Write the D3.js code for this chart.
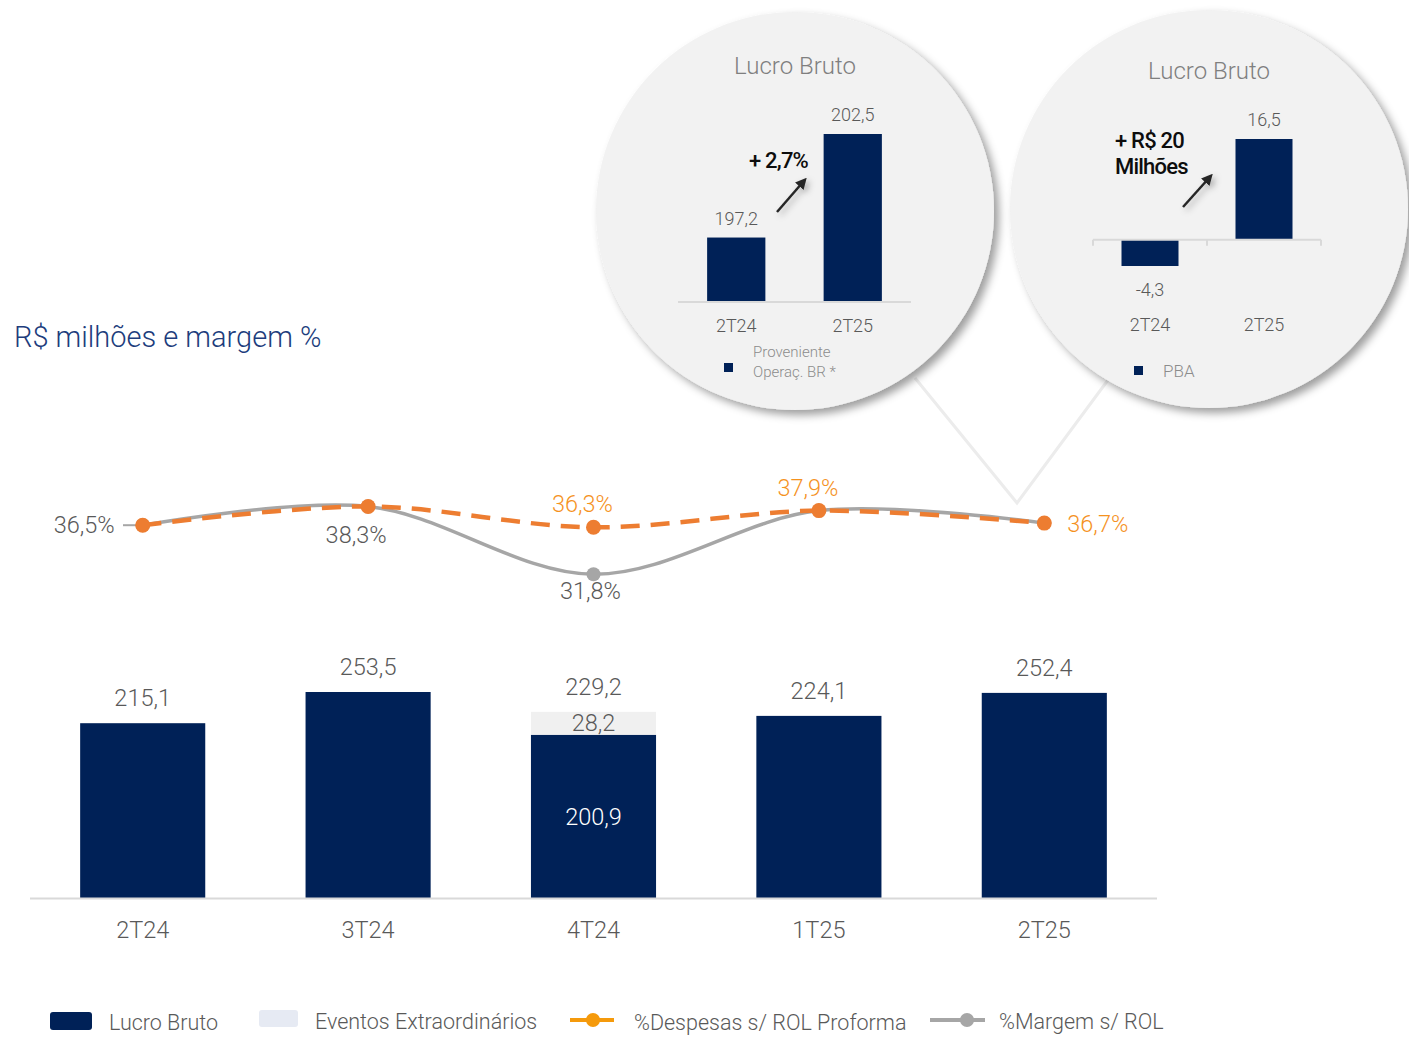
<!DOCTYPE html>
<html lang="pt">
<head>
<meta charset="UTF-8">
<script src="https://d3js.org/d3.v7.min.js"></script>
<title>Lucro Bruto</title>
<style>
    body { margin: 0; background: #fff; }
    svg text { font-family: Roboto, "Noto Sans", sans-serif; }
</style>
</head>
<body>
<div id="chart"></div>
<script>
    // main chart data
    const categories = ["2T24", "3T24", "4T24", "1T25", "2T25"];
    const lucroBruto = [215.1, 253.5, 200.9, 224.1, 252.4];
    const eventosExtra = [0, 0, 28.2, 0, 0];
    const totals = [215.1, 253.5, 229.2, 224.1, 252.4];
    const despesasPct = [36.5, 38.3, 36.3, 37.9, 36.7];
    const margemPct = [36.5, 38.3, 31.8, 37.9, 36.7];

    // inset circles
    const insetCats = ["2T24", "2T25"];
    const insetBR = [197.2, 202.5];
    const insetPBA = [-4.3, 16.5];

    const W = 1409, H = 1037;
    const navy = "#002157", grey = "#595959", orange = "#ed7d31", orangeTxt = "#f5921e", lineGrey = "#a6a6a6";

    const br = d3.formatLocale({decimal: ",", thousands: ".", grouping: [3], currency: ["R$", ""], minus: "-"});
    const fmt = br.format(".1f");
    const pct = v => fmt(v) + "%";

    const svg = d3.select("#chart").append("svg")
        .attr("width", W).attr("height", H);

    const defs = svg.append("defs");
    defs.append("filter").attr("id", "shadow")
        .attr("x", "-20%").attr("y", "-20%").attr("width", "140%").attr("height", "140%")
        .append("feDropShadow")
        .attr("dx", 5).attr("dy", 5).attr("stdDeviation", 4)
        .attr("flood-color", "#000").attr("flood-opacity", 0.38);
    defs.append("filter").attr("id", "arrowShadow")
        .attr("x", "-50%").attr("y", "-50%").attr("width", "200%").attr("height", "200%")
        .append("feDropShadow")
        .attr("dx", 3).attr("dy", 3).attr("stdDeviation", 3)
        .attr("flood-color", "#000").attr("flood-opacity", 0.3);
    defs.append("marker").attr("id", "arrowHead")
        .attr("viewBox", "0 0 10 10").attr("refX", 5).attr("refY", 5)
        .attr("markerWidth", 4.5).attr("markerHeight", 4.5).attr("orient", "auto")
        .append("path").attr("d", "M0,0 L10,5 L0,10 z").attr("fill", "#262626");

    // title
    svg.append("text").attr("x", 14).attr("y", 347)
        .attr("font-size", 29).attr("fill", "#203c7c").attr("font-weight", 300)
        .text("R$ milhões e margem %");

    // ---------------- bars ----------------
    const x = d3.scaleBand().domain(categories).range([30, 1157])
        .paddingInner(0.445).paddingOuter(0.2225);
    const y = d3.scaleLinear().domain([0, 253.5]).range([898, 692]);

    const bars = svg.append("g");
    bars.selectAll("rect.lb").data(categories).join("rect")
        .attr("x", d => x(d)).attr("width", x.bandwidth())
        .attr("y", (d, i) => y(lucroBruto[i]))
        .attr("height", (d, i) => y(0) - y(lucroBruto[i]))
        .attr("fill", navy);
    bars.selectAll("rect.ev").data(categories.filter((d, i) => eventosExtra[i] > 0)).join("rect")
        .attr("x", d => x(d)).attr("width", x.bandwidth())
        .attr("y", d => { const i = categories.indexOf(d); return y(lucroBruto[i] + eventosExtra[i]); })
        .attr("height", d => { const i = categories.indexOf(d); return y(lucroBruto[i]) - y(lucroBruto[i] + eventosExtra[i]); })
        .attr("fill", "#f0f0f0");

    // axis line
    svg.append("line").attr("x1", 30).attr("x2", 1157).attr("y1", 898.5).attr("y2", 898.5)
        .attr("stroke", "#d9d9d9").attr("stroke-width", 2);

    // labels
    categories.forEach((c, i) => {
        const cx = x(c) + x.bandwidth() / 2;
        const top = y(lucroBruto[i] + eventosExtra[i]);
        svg.append("text").attr("x", cx).attr("y", top - 17)
            .attr("text-anchor", "middle").attr("font-size", 23.5).attr("font-weight", 300)
            .attr("fill", grey).text(fmt(totals[i]));
        if (eventosExtra[i] > 0) {
            svg.append("text").attr("x", cx).attr("y", (top + y(lucroBruto[i])) / 2 + 8)
                .attr("text-anchor", "middle").attr("font-size", 23.5).attr("font-weight", 300)
                .attr("fill", grey).text(fmt(eventosExtra[i]));
            svg.append("text").attr("x", cx).attr("y", (y(lucroBruto[i]) + y(0)) / 2 + 9)
                .attr("text-anchor", "middle").attr("font-size", 23.5).attr("font-weight", 300)
                .attr("fill", "#fff").text(fmt(lucroBruto[i]));
        }
        svg.append("text").attr("x", cx).attr("y", 938)
            .attr("text-anchor", "middle").attr("font-size", 23.5).attr("font-weight", 300)
            .attr("fill", grey).text(c);
    });

    // ---------------- lines ----------------
    const yl = d3.scaleLinear().domain([30, 40]).range([593, 488.7]);
    const cx = d => x(d) + x.bandwidth() / 2;
    const lineGen = d3.line().x((d, i) => cx(categories[i])).y(d => yl(d)).curve(d3.curveCatmullRom);

    svg.append("line").attr("x1", 123).attr("x2", cx(categories[0])).attr("y1", yl(margemPct[0])).attr("y2", yl(margemPct[0]))
        .attr("stroke", lineGrey).attr("stroke-width", 2);
    svg.append("path").attr("d", lineGen(margemPct))
        .attr("fill", "none").attr("stroke", lineGrey).attr("stroke-width", 3.5);
    svg.selectAll("circle.mg").data(margemPct).join("circle")
        .attr("cx", (d, i) => cx(categories[i])).attr("cy", d => yl(d)).attr("r", 7)
        .attr("fill", lineGrey);

    svg.append("path").attr("d", lineGen(despesasPct))
        .attr("fill", "none").attr("stroke", orange).attr("stroke-width", 4.5)
        .attr("stroke-dasharray", "19,11");
    svg.selectAll("circle.dp").data(despesasPct).join("circle")
        .attr("cx", (d, i) => cx(categories[i])).attr("cy", d => yl(d)).attr("r", 7.5)
        .attr("fill", orange);

    // line labels
    const lineLabels = [
        {v: margemPct[0], i: 0, dx: -28, dy: 8, anchor: "end", color: grey},
        {v: margemPct[1], i: 1, dx: -12, dy: 37, anchor: "middle", color: grey},
        {v: margemPct[2], i: 2, dx: -3, dy: 25, anchor: "middle", color: grey},
        {v: despesasPct[2], i: 2, dx: -11, dy: -15, anchor: "middle", color: orangeTxt},
        {v: despesasPct[3], i: 3, dx: -11, dy: -15, anchor: "middle", color: orangeTxt},
        {v: despesasPct[4], i: 4, dx: 23, dy: 9, anchor: "start", color: orangeTxt}
    ];
    lineLabels.forEach(l => {
        svg.append("text").attr("x", cx(categories[l.i]) + l.dx).attr("y", yl(l.v) + l.dy)
            .attr("text-anchor", l.anchor).attr("font-size", 23.5).attr("font-weight", 300)
            .attr("fill", l.color).text(pct(l.v));
    });

    // ---------------- legend ----------------
    const lg = svg.append("g").attr("font-size", 21.5).attr("font-weight", 300).attr("fill", grey);
    lg.append("rect").attr("x", 50).attr("y", 1012).attr("width", 42).attr("height", 18).attr("rx", 3).attr("fill", navy);
    lg.append("text").attr("x", 109).attr("y", 1030).text("Lucro Bruto");
    lg.append("rect").attr("x", 259).attr("y", 1010).attr("width", 39).attr("height", 17).attr("rx", 3).attr("fill", "#e6eaf3");
    lg.append("text").attr("x", 315).attr("y", 1029).text("Eventos Extraordinários");
    lg.append("line").attr("x1", 570).attr("x2", 614).attr("y1", 1020).attr("y2", 1020).attr("stroke", "#f59a0c").attr("stroke-width", 4);
    lg.append("circle").attr("cx", 593).attr("cy", 1020).attr("r", 7).attr("fill", "#f59a0c");
    lg.append("text").attr("x", 634).attr("y", 1030).text("%Despesas s/ ROL Proforma");
    lg.append("line").attr("x1", 930).attr("x2", 985).attr("y1", 1020).attr("y2", 1020).attr("stroke", lineGrey).attr("stroke-width", 4);
    lg.append("circle").attr("cx", 967).attr("cy", 1020).attr("r", 7).attr("fill", lineGrey);
    lg.append("text").attr("x", 999).attr("y", 1029).text("%Margem s/ ROL");

    // ---------------- callout circles ----------------
    svg.append("polyline").attr("points", "915,378 1017,503 1108,380")
        .attr("fill", "none").attr("stroke", "#ececec").attr("stroke-width", 3);

    const drawInset = (opt) => {
        const g = svg.append("g");
        g.append("circle").attr("cx", opt.cx).attr("cy", opt.cy).attr("r", 199)
            .attr("fill", "#f2f2f2").attr("filter", "url(#shadow)");
        g.append("text").attr("x", opt.cx).attr("y", opt.titleY)
            .attr("text-anchor", "middle").attr("font-size", 24).attr("font-weight", 300)
            .attr("fill", "#7f7f7f").text("Lucro Bruto");

        const bx = d3.scaleBand().domain(insetCats).range(opt.xr).paddingInner(0.5).paddingOuter(0.25);
        const by = d3.scaleLinear().domain(opt.yd).range(opt.yr);
        const base = opt.base;
        g.selectAll("rect").data(opt.values).join("rect")
            .attr("x", (d, i) => bx(insetCats[i])).attr("width", bx.bandwidth())
            .attr("y", d => Math.min(by(d), by(base)))
            .attr("height", d => Math.abs(by(d) - by(base)))
            .attr("fill", navy);
        g.append("line").attr("x1", opt.xr[0]).attr("x2", opt.xr[1]).attr("y1", by(base)).attr("y2", by(base))
            .attr("stroke", "#d9d9d9").attr("stroke-width", 2);
        if (opt.ticks) {
            [opt.xr[0], (opt.xr[0] + opt.xr[1]) / 2, opt.xr[1]].forEach(t => {
                g.append("line").attr("x1", t).attr("x2", t).attr("y1", by(base)).attr("y2", by(base) + 6)
                    .attr("stroke", "#d9d9d9").attr("stroke-width", 2);
            });
        }
        opt.values.forEach((v, i) => {
            const c = bx(insetCats[i]) + bx.bandwidth() / 2;
            const ly = v >= 0 ? by(v) - 13 : by(v) + 30;
            g.append("text").attr("x", c).attr("y", ly)
                .attr("text-anchor", "middle").attr("font-size", 18).attr("font-weight", 300)
                .attr("fill", grey).text(fmt(v));
            g.append("text").attr("x", c).attr("y", opt.catY)
                .attr("text-anchor", "middle").attr("font-size", 18).attr("font-weight", 300)
                .attr("fill", grey).text(insetCats[i]);
        });
        // arrow
        g.append("line").attr("x1", opt.arrow[0]).attr("y1", opt.arrow[1])
            .attr("x2", opt.arrow[2]).attr("y2", opt.arrow[3])
            .attr("stroke", "#262626").attr("stroke-width", 2.5)
            .attr("marker-end", "url(#arrowHead)").attr("filter", "url(#arrowShadow)");
        opt.note.forEach((t, k) => {
            g.append("text").attr("x", opt.noteX).attr("y", opt.noteY + k * 26)
                .attr("text-anchor", opt.noteAnchor).attr("font-size", 22).attr("font-weight", 500)
                .attr("letter-spacing", -0.8).attr("fill", "#0d0d0d").text(t);
        });
        // legend
        g.append("rect").attr("x", opt.legX).attr("y", opt.legY - 5).attr("width", 9).attr("height", 9).attr("fill", navy);
        opt.legText.forEach((t, k) => {
            g.append("text").attr("x", opt.legX + 29).attr("y", opt.legTextY + k * 20)
                .attr("font-size", opt.legSize).attr("font-weight", 300).attr("fill", "#8c8c8c").text(t);
        });
    };

    drawInset({
        cx: 795, cy: 211, titleY: 74,
        xr: [678, 911], yd: [193.9, 202.5], yr: [302, 134], base: 193.9,
        values: insetBR, catY: 332, ticks: false,
        arrow: [777, 212, 803, 182],
        note: ["+ 2,7%"], noteX: 808, noteY: 168, noteAnchor: "end",
        legX: 724, legY: 368, legText: ["Proveniente", "Operaç. BR *"], legTextY: 357, legSize: 15
    });
    drawInset({
        cx: 1209, cy: 209, titleY: 79,
        xr: [1093, 1321], yd: [-4.3, 16.5], yr: [266, 139], base: 0,
        values: insetPBA, catY: 331, ticks: true,
        arrow: [1183, 207, 1209, 178],
        note: ["+ R$ 20", "Milhões"], noteX: 1115, noteY: 148, noteAnchor: "start",
        legX: 1134, legY: 371, legText: ["PBA"], legTextY: 377, legSize: 17
    });
</script>
</body>
</html>
